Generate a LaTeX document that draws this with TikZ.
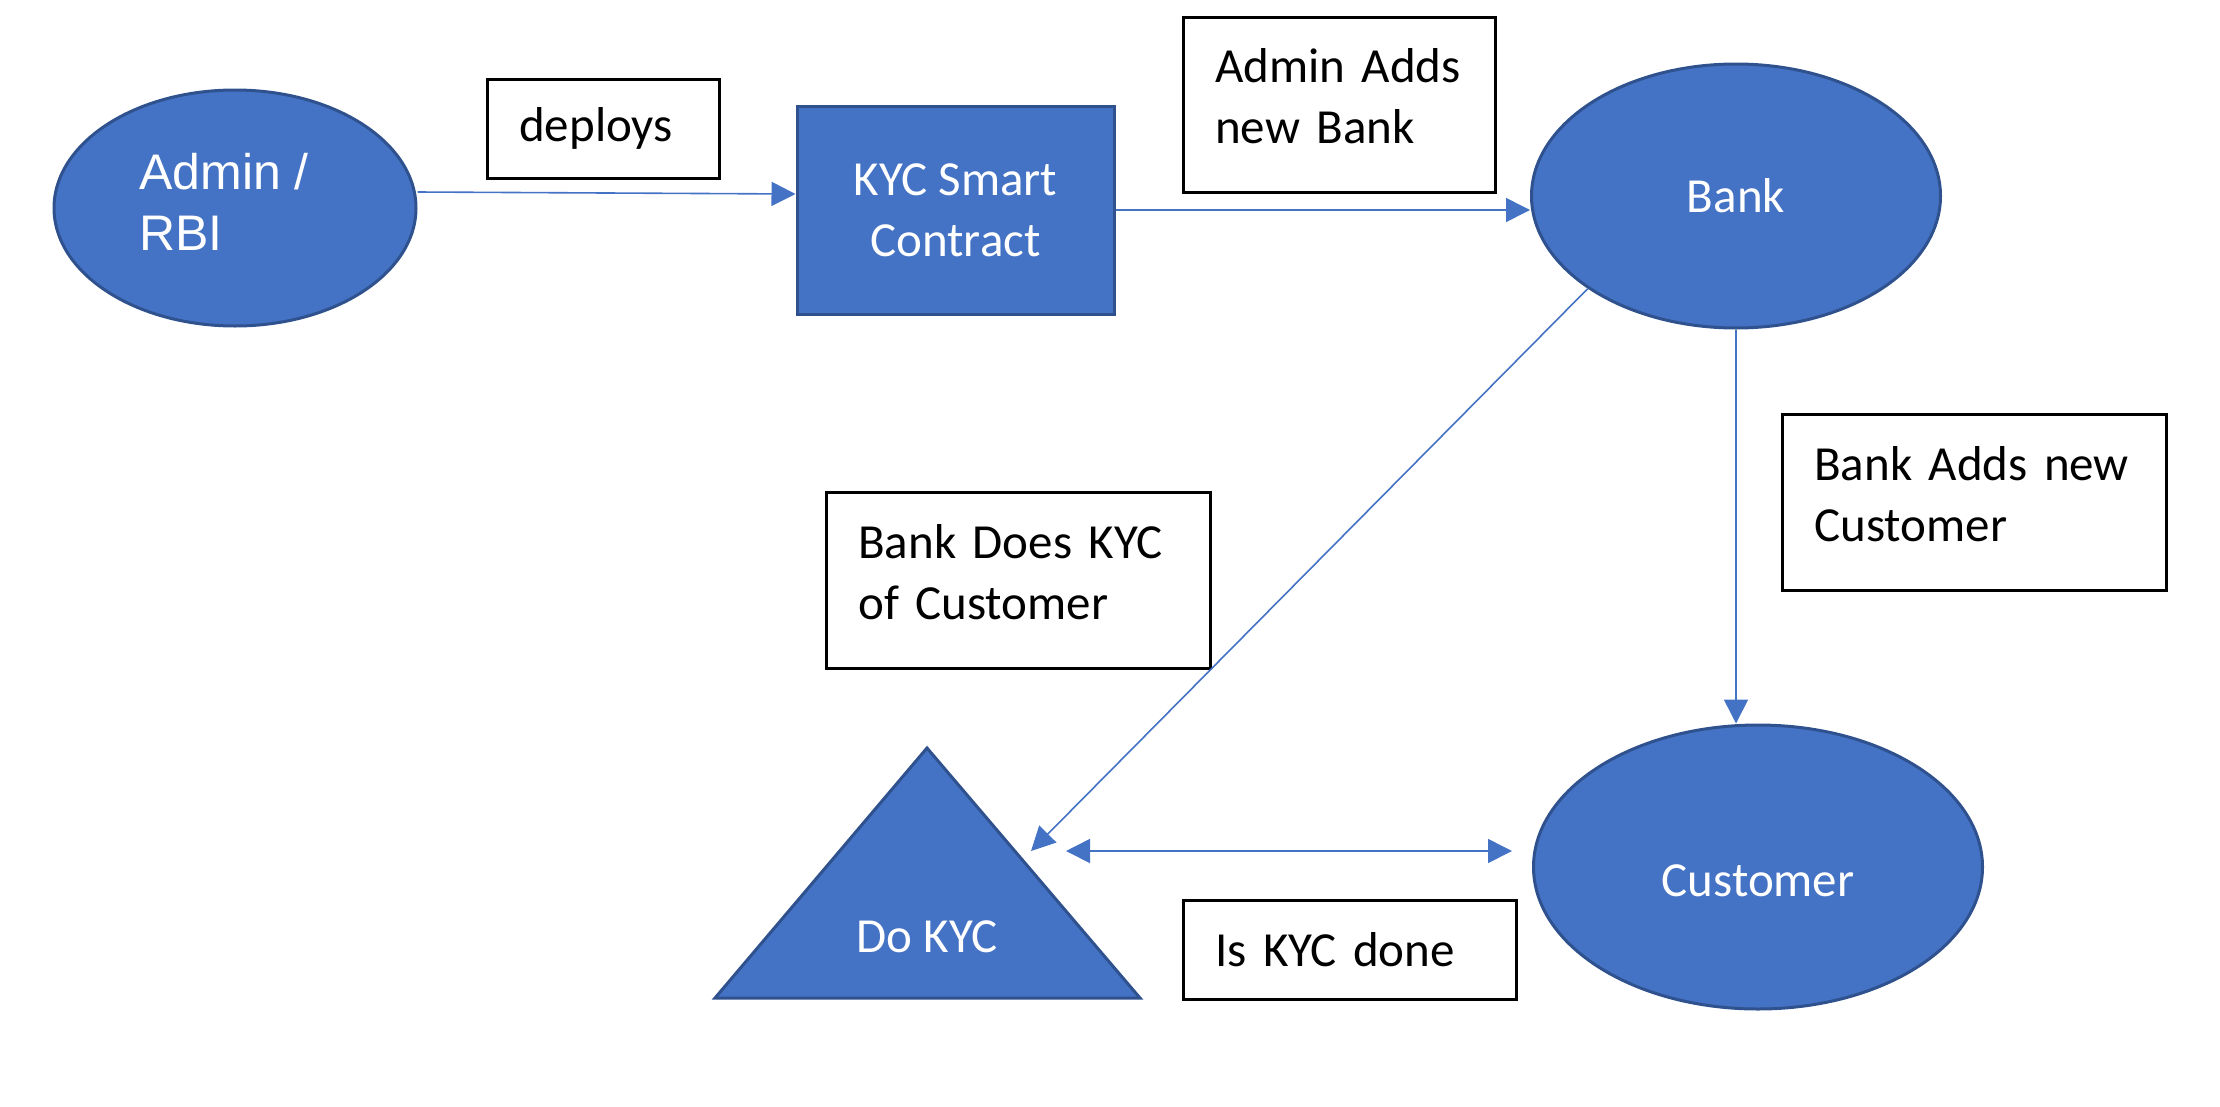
\documentclass[tikz,border=0pt]{standalone}
\usepackage{fontspec}
\setmainfont{Carlito}
\newfontfamily\arialfont{Liberation Sans}
\usetikzlibrary{arrows.meta,shapes.geometric}
\definecolor{ofblue}{HTML}{4472C4}
\definecolor{ofdark}{HTML}{2F528F}
\begin{document}
\begin{tikzpicture}[x=1pt,y=-1pt,
  txt/.style={font=\fontsize{49}{61}\selectfont},
  blueshape/.style={fill=ofblue, draw=ofdark, line width=3pt, text=white, txt},
  oval/.style={blueshape, ellipse, inner sep=0pt},
  labelbox/.style={draw=black, line width=2.5pt, fill=white, align=left, inner xsep=32pt, inner ysep=0pt, txt, anchor=north west},
  twoline/.style={text depth=78pt},
  conn/.style={draw=ofblue, line width=1.6pt, -{Triangle[length=24pt,width=24pt]}},
  dconn/.style={draw=ofblue, line width=1.6pt, {Triangle[length=24pt,width=24pt]}-{Triangle[length=24pt,width=24pt]}},
]
\useasboundingbox (0,0) rectangle (2220,1106);

% main shapes
\node[oval, minimum width=362pt, minimum height=236pt, align=left, text depth=12pt, font=\arialfont\fontsize{50}{61}\selectfont] (admin) at (235,208) {Admin /\hspace*{22pt}\\RBI};
\node[blueshape, rectangle, minimum width=317pt, minimum height=208pt, align=center, inner sep=0pt] (kyc) at (955.5,210) {KYC Smart\\Contract};
\node[oval, minimum width=409pt, minimum height=264pt] (bank) at (1736,196) {Bank};
\node[oval, minimum width=449pt, minimum height=284pt, text height=60pt] (customer) at (1758,867) {Customer};

% triangle
\coordinate (triA) at (927,748);
\coordinate (triL) at (715,998);
\coordinate (triR) at (1140,998);
\path[blueshape] (triA) -- (triL) -- (triR) -- cycle;
\node[txt, text=white] (dokyc) at (927,937) {Do KYC};

% label boxes
\node[labelbox, minimum width=232pt, minimum height=99pt, text width=168pt] (lbdeploy) at (486,78) {deploys};
\node[labelbox, twoline, minimum width=312pt, minimum height=175pt, text width=248pt] (lbaddbank) at (1182,16) {Admin Adds\\new Bank};
\node[labelbox, twoline, minimum width=384pt, minimum height=176pt, text width=320pt] (lbaddcust) at (1781,413) {Bank Adds new\\Customer};
\node[labelbox, twoline, minimum width=384pt, minimum height=176pt, text width=320pt] (lbdoes) at (825,491) {Bank Does KYC\\of Customer};
\node[labelbox, minimum width=333pt, minimum height=99pt, text width=269pt] (lbdone) at (1182,899) {Is KYC done};

% connectors
\draw[conn] ([yshift=16pt]admin.east) -- ([yshift=16pt]kyc.west);
\draw[conn] (kyc.east) -- (kyc.east -| bank.west);
\draw[conn] (bank.south) -- (bank.south |- customer.north);
\coordinate (diagend) at (1031,851);
\draw[conn] (bank.212) -- (diagend);
\coordinate (dblL) at (1066,851);
\coordinate (dblR) at (1512,851);
\draw[dconn] (dblL) -- (dblR);
\end{tikzpicture}
\end{document}
